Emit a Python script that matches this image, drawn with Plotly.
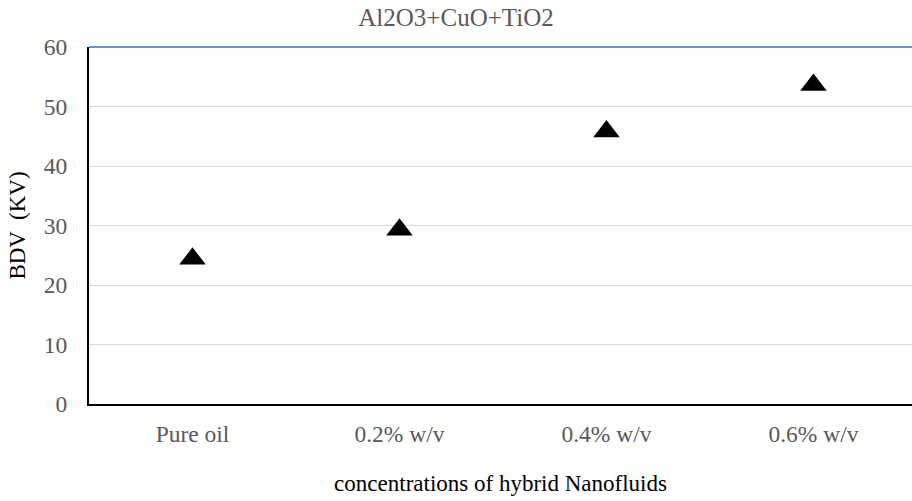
import plotly.graph_objects as go

# Breakdown voltage for each hybrid nanofluid concentration
categories = ["Pure oil", "0.2% w/v", "0.4% w/v", "0.6% w/v"]
bdv_kv = [24.4, 29.3, 45.8, 53.6]
y_ticks = [0, 10, 20, 30, 40, 50, 60]

serif = "Liberation Serif, Times New Roman, serif"
gray = "#595959"

fig = go.Figure()
fig.add_trace(go.Scatter(
    x=list(range(len(categories))),
    y=bdv_kv,
    mode="markers",
    marker=dict(symbol="triangle-up", size=23, color="black"),
    showlegend=False,
    cliponaxis=False,
))

fig.update_layout(
    width=912, height=501,
    margin=dict(l=89, r=0, t=47, b=97),
    paper_bgcolor="white", plot_bgcolor="white",
    title=dict(text="Al2O3+CuO+TiO2", x=0.5, xanchor="center", y=0.966, yanchor="middle",
               font=dict(family=serif, size=25, color=gray)),
    xaxis=dict(
        range=[-0.5, 3.476],
        tickmode="array",
        tickvals=list(range(len(categories))),
        ticktext=categories,
        tickfont=dict(family=serif, size=23.5, color=gray),
        ticks="", showgrid=False, zeroline=False,
        showline=True, linecolor="black", linewidth=2,
        ticklabelstandoff=8,
        title=dict(text="concentrations of hybrid Nanofluids",
                   font=dict(family=serif, size=23, color="black"), standoff=29),
    ),
    yaxis=dict(
        range=[0, 60],
        tickmode="array",
        tickvals=y_ticks,
        tickfont=dict(family=serif, size=23.5, color=gray),
        ticks="", showgrid=True, gridcolor="#d9d9d9", gridwidth=1,
        zeroline=False,
        showline=True, linecolor="black", linewidth=2,
        ticklabelstandoff=15,
        title=dict(text="BDV  (KV)", font=dict(family=serif, size=23, color="black"), standoff=12),
    ),
)

# Top boundary of the plotting area
fig.add_shape(type="line", xref="paper", yref="paper", x0=0, x1=1, y0=1, y1=1,
              line=dict(color="#5b9bd5", width=2))

fig.write_html("out.html")
